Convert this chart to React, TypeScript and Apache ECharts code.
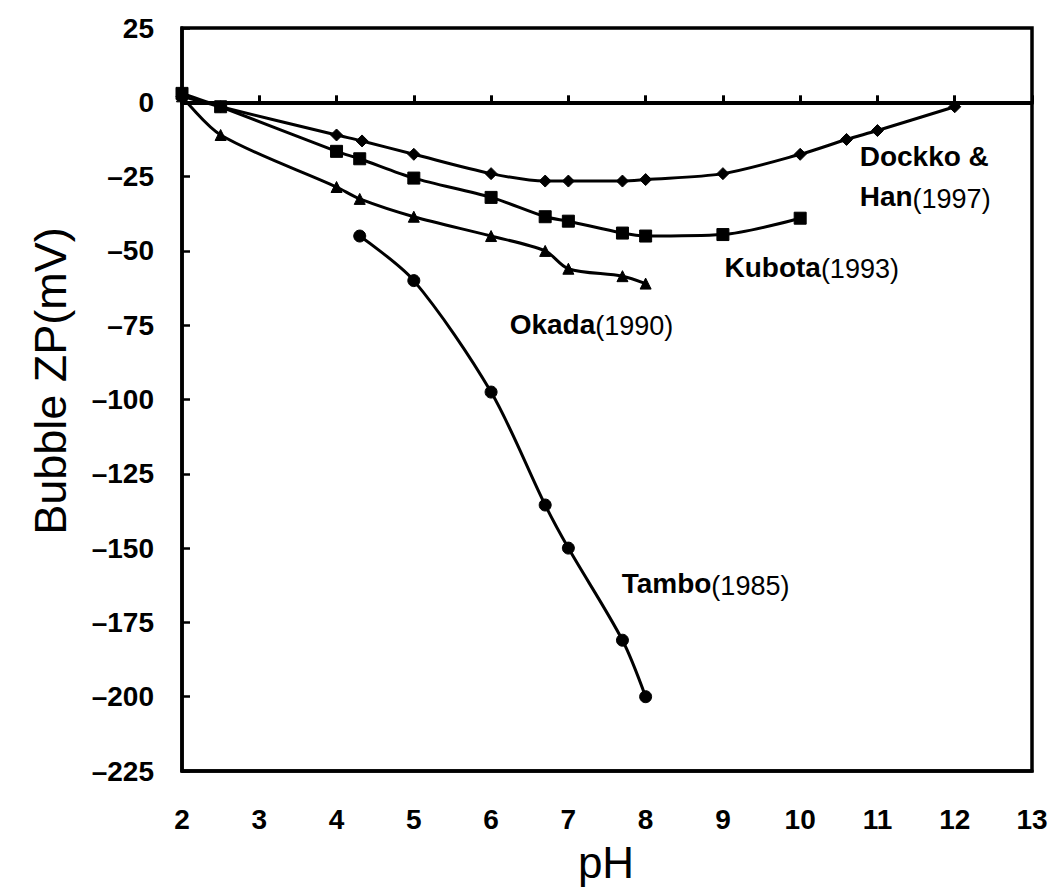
import React, { useEffect, useRef } from "react";
import * as echarts from "echarts";

const FONT = "'Liberation Sans', Arial, Helvetica, sans-serif";

// pH values (x) and bubble zeta potential (mV) for each study
const dockkoPH = [2, 2.5, 4, 4.33, 5, 6, 6.7, 7, 7.7, 8, 9, 10, 10.6, 11, 12];
const dockkoZP = [2, -1.5, -11, -13, -17.5, -24, -26.5, -26.5, -26.5, -26, -24, -17.5, -12.5, -9.5, -1.5];

const kubotaPH = [2, 2.5, 4, 4.3, 5, 6, 6.7, 7, 7.7, 8, 9, 10];
const kubotaZP = [3, -1.5, -16.5, -19, -25.5, -32, -38.5, -40, -44, -45, -44.5, -39];

const okadaPH = [2, 2.5, 4, 4.3, 5, 6, 6.7, 7, 7.7, 8];
const okadaZP = [2, -11, -28.5, -32.5, -38.5, -45, -50, -56, -58.5, -61];

const tamboPH = [4.3, 5, 6, 6.7, 7, 7.7, 8];
const tamboZP = [-45, -60, -97.5, -135.5, -150, -181, -200];

const xTicks = [2, 3, 4, 5, 6, 7, 8, 9, 10, 11, 12, 13];
const yTicks = [25, 0, -25, -50, -75, -100, -125, -150, -175, -200, -225];

// annotation anchors (data coordinates)
const labelDockko = { name1: "Dockko &", name2: "Han", year: "(1997)", at: [10.77, -25] };
const labelKubota = { name: "Kubota", year: "(1993)", at: [9.02, -55.5] };
const labelOkada = { name: "Okada", year: "(1990)", at: [6.24, -74.7] };
const labelTambo = { name: "Tambo", year: "(1985)", at: [7.69, -162] };

const zip = (xs: number[], ys: number[]) => xs.map((x, i) => [x, ys[i]]);

const richStyles = {
  n: { fontFamily: FONT, fontSize: 28, fontWeight: "bold", color: "#000", lineHeight: 40 },
  y: { fontFamily: FONT, fontSize: 27, fontWeight: "normal", color: "#000", lineHeight: 40, padding: [4, 0, 0, 0] },
};

function annotation(at: number[], text: string) {
  return {
    symbol: "circle",
    symbolSize: 0,
    silent: true,
    data: [
      {
        coord: at,
        label: {
          show: true,
          position: "right",
          distance: 0,
          formatter: text,
          rich: richStyles,
        },
      },
    ],
  };
}

function lineSeries(name: string, data: number[][], symbol: string, size: number, mp: any) {
  return {
    name,
    type: "line",
    xAxisIndex: 0,
    yAxisIndex: 0,
    data,
    smooth: 0.3,
    symbol,
    symbolSize: size,
    showSymbol: true,
    lineStyle: { color: "#000", width: 3 },
    itemStyle: { color: "#000", borderColor: "#000" },
    z: 5,
    markPoint: mp,
  };
}

export default function App() {
  const ref = useRef<HTMLDivElement>(null);

  useEffect(() => {
    if (!ref.current) return;
    const chart = echarts.init(ref.current, undefined, { renderer: "svg" });
    const xMin = xTicks[0];
    const xMax = xTicks[xTicks.length - 1];
    const yMax = yTicks[0];
    const yMin = yTicks[yTicks.length - 1];

    chart.setOption({
      animation: false,
      backgroundColor: "#fff",
      grid: {
        left: 182,
        right: 32,
        top: 28,
        bottom: 124,
        show: true,
        borderColor: "#000",
        borderWidth: 3.5,
        backgroundColor: "transparent",
      },
      xAxis: [
        {
          type: "value",
          position: "bottom",
          min: xMin,
          max: xMax,
          interval: 1,
          axisLine: { show: true, onZero: false, lineStyle: { color: "#000", width: 3.5 } },
          axisTick: { show: false },
          splitLine: { show: false },
          axisLabel: {
            margin: 34,
            fontFamily: FONT,
            fontSize: 28,
            fontWeight: "bold",
            color: "#000",
          },
        },
        {
          type: "value",
          position: "top",
          min: xMin,
          max: xMax,
          interval: 1,
          axisLine: { show: true, onZero: true, lineStyle: { color: "#000", width: 4 } },
          axisTick: { show: true, inside: false, length: 7, lineStyle: { color: "#000", width: 3 } },
          splitLine: { show: false },
          axisLabel: { show: false },
        },
      ],
      yAxis: {
        type: "value",
        position: "left",
        min: yMin,
        max: yMax,
        interval: 25,
        axisLine: { show: true, onZero: false, lineStyle: { color: "#000", width: 3.5 } },
        axisTick: { show: true, inside: true, length: 8, lineStyle: { color: "#000", width: 2.5 } },
        splitLine: { show: false },
        axisLabel: {
          margin: 28,
          fontFamily: FONT,
          fontSize: 28,
          fontWeight: "bold",
          color: "#000",
          formatter: (v: number) => (v < 0 ? "\u2013" + Math.abs(v) : String(v)),
        },
      },
      graphic: [
        {
          type: "text",
          x: 50,
          y: 381,
          rotation: Math.PI / 2,
          style: {
            text: "Bubble ZP(mV)",
            fontFamily: FONT,
            fontSize: 45,
            fill: "#000",
            align: "center",
            verticalAlign: "middle",
          },
        },
        {
          type: "text",
          x: 606,
          y: 862,
          style: {
            text: "pH",
            fontFamily: FONT,
            fontSize: 44,
            fill: "#000",
            align: "center",
            verticalAlign: "middle",
          },
        },
      ],
      series: [
        lineSeries(
          "Dockko & Han (1997)",
          zip(dockkoPH, dockkoZP),
          "diamond",
          12,
          annotation(
            labelDockko.at,
            `{n|${labelDockko.name1}}\n{n|${labelDockko.name2}}{y|${labelDockko.year}}`
          )
        ),
        lineSeries(
          "Kubota (1993)",
          zip(kubotaPH, kubotaZP),
          "rect",
          12,
          annotation(labelKubota.at, `{n|${labelKubota.name}}{y|${labelKubota.year}}`)
        ),
        lineSeries(
          "Okada (1990)",
          zip(okadaPH, okadaZP),
          "triangle",
          11,
          annotation(labelOkada.at, `{n|${labelOkada.name}}{y|${labelOkada.year}}`)
        ),
        lineSeries(
          "Tambo (1985)",
          zip(tamboPH, tamboZP),
          "circle",
          12,
          annotation(labelTambo.at, `{n|${labelTambo.name}}{y|${labelTambo.year}}`)
        ),
      ],
    });

    return () => chart.dispose();
  }, []);

  return (
    <div
      ref={ref}
      style={{ position: "fixed", left: 0, top: 0, width: 1064, height: 895, background: "#fff" }}
    />
  );
}
